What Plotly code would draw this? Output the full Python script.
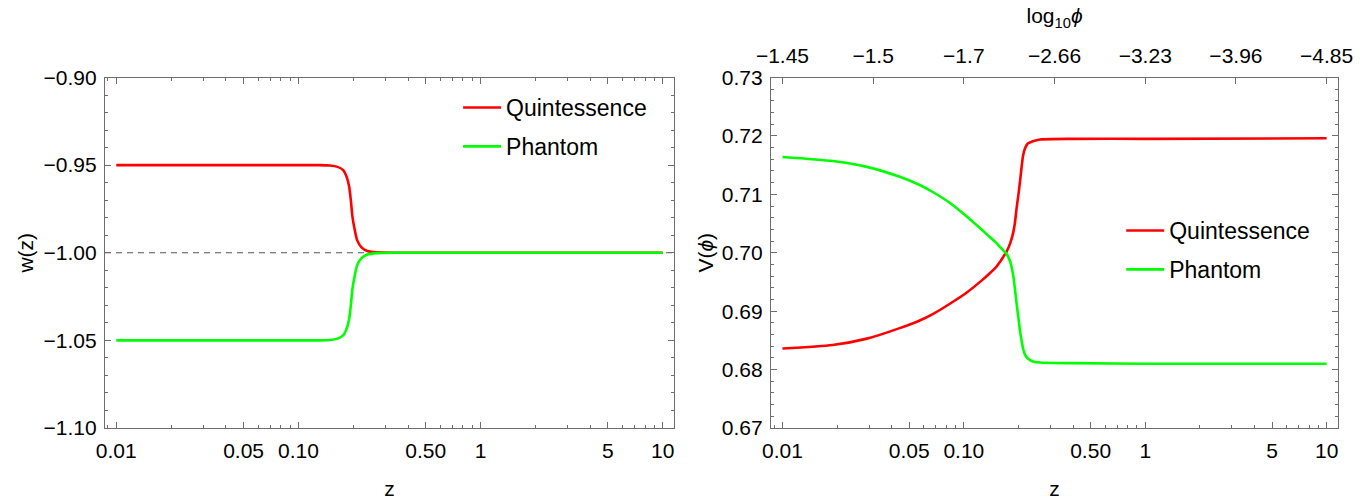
import plotly.graph_objects as go

# ---- Left panel: equation of state w(z) ----
z_w_quint = [0.01, 0.03, 0.06, 0.10, 0.13, 0.149, 0.164, 0.176, 0.184, 0.190, 0.194,
             0.198, 0.204, 0.210, 0.222, 0.239, 0.269, 0.35, 0.6, 1.0, 3.0, 10.0]
w_quint = [-0.9500, -0.9500, -0.9500, -0.9500, -0.9500, -0.9502, -0.9510, -0.9528,
           -0.9567, -0.9624, -0.9700, -0.9795, -0.9871, -0.9928, -0.9969, -0.9990,
           -0.9998, -1.0000, -1.0000, -1.0000, -1.0000, -1.0000]

z_w_phantom = [0.01, 0.03, 0.06, 0.10, 0.13, 0.149, 0.164, 0.176, 0.184, 0.190, 0.194,
               0.198, 0.204, 0.210, 0.222, 0.239, 0.269, 0.35, 0.6, 1.0, 3.0, 10.0]
w_phantom = [-1.0500, -1.0500, -1.0500, -1.0500, -1.0500, -1.0498, -1.0490, -1.0472,
             -1.0433, -1.0376, -1.0300, -1.0205, -1.0129, -1.0072, -1.0031, -1.0010,
             -1.0002, -1.0000, -1.0000, -1.0000, -1.0000, -1.0000]

w_reference = -1.0

# ---- Right panel: potential V(phi) ----
z_v = [0.01, 0.0189, 0.0292, 0.0443, 0.0571, 0.0674, 0.085, 0.1038, 0.127, 0.139,
       0.151, 0.158, 0.165, 0.172, 0.180, 0.187, 0.191, 0.195, 0.200, 0.204, 0.208,
       0.212, 0.217, 0.225, 0.240, 0.263, 0.40, 1.0, 10.0]
v_quint = [0.6836, 0.6842, 0.6853, 0.6871, 0.6884, 0.6895, 0.6914, 0.6932, 0.6954, 0.6965,
           0.6976, 0.6984, 0.6993, 0.7002, 0.7016, 0.7034, 0.7050, 0.7074, 0.7100, 0.7122,
           0.7146, 0.7166, 0.7178, 0.7187, 0.7191, 0.7194, 0.7195, 0.7195, 0.7196]
v_phantom = [0.7164, 0.7157, 0.7147, 0.7130, 0.7116, 0.7104, 0.7084, 0.7062, 0.7038, 0.7027,
             0.7017, 0.7010, 0.7004, 0.6998, 0.6985, 0.6962, 0.6940, 0.6915, 0.6888, 0.6866,
             0.6850, 0.6836, 0.6826, 0.6819, 0.6814, 0.6812, 0.6811, 0.6810, 0.6810]

# ---- Tick labels ----
z_tickvals = [0.01, 0.05, 0.1, 0.5, 1, 5, 10]
z_ticktext = ["0.01", "0.05", "0.10", "0.50", "1", "5", "10"]
z_minor = [0.009, 0.02, 0.03, 0.04, 0.06, 0.07, 0.08, 0.09, 0.2, 0.3, 0.4, 0.6, 0.7, 0.8,
           0.9, 2, 3, 4, 6, 7, 8, 9]
phi_tickvals = [0.01, 0.0316228, 0.1, 0.316228, 1, 3.16228, 10]
phi_ticktext = ["\u22121.45", "\u22121.5", "\u22121.7", "\u22122.66", "\u22123.23",
                "\u22123.96", "\u22124.85"]

RED = "#ff0000"
GREEN = "#00ff00"
FRAME = "#6e6e6e"
FONT = "Liberation Sans"
TICK_FONT = dict(family=FONT, size=21, color="black")
TITLE_FONT = dict(family=FONT, size=21, color="black")
LEGEND_FONT = dict(family=FONT, size=23, color="black")
LINE = dict(width=2.6, shape="spline", smoothing=0.6)

fig = go.Figure()

fig.add_trace(go.Scatter(x=z_w_quint, y=w_quint, mode="lines", name="Quintessence",
                         line=dict(color=RED, **LINE), xaxis="x", yaxis="y",
                         legend="legend", legendgroup="q1"))
fig.add_trace(go.Scatter(x=z_w_phantom, y=w_phantom, mode="lines", name="Phantom",
                         line=dict(color=GREEN, **LINE), xaxis="x", yaxis="y",
                         legend="legend", legendgroup="p1"))

fig.add_trace(go.Scatter(x=z_v, y=v_quint, mode="lines", name="Quintessence",
                         line=dict(color=RED, **LINE), xaxis="x2", yaxis="y2",
                         legend="legend2", legendgroup="q2"))
fig.add_trace(go.Scatter(x=z_v, y=v_phantom, mode="lines", name="Phantom",
                         line=dict(color=GREEN, **LINE), xaxis="x2", yaxis="y2",
                         legend="legend2", legendgroup="p2"))
# carrier for the log10(phi) axis on top of the right panel
fig.add_trace(go.Scatter(x=z_v, y=v_quint, mode="lines", opacity=0, showlegend=False,
                         hoverinfo="skip", xaxis="x3", yaxis="y2"))

# dashed reference line w = -1
fig.add_shape(type="line", xref="x domain", yref="y", x0=0, x1=1,
              y0=w_reference, y1=w_reference, layer="below",
              line=dict(color="#555555", width=1.2, dash="6px,5px"))

common_x = dict(type="log", showline=True, linecolor=FRAME, linewidth=1.2,
                ticks="inside", ticklen=6, tickwidth=1, tickcolor=FRAME,
                tickvals=z_tickvals, ticktext=z_ticktext, tickfont=TICK_FONT,
                showgrid=False, zeroline=False, ticklabelstandoff=4, automargin=False,
                minor=dict(tickvals=z_minor, ticks="inside", ticklen=3,
                           tickcolor=FRAME, showgrid=False),
                title=dict(text="z", font=TITLE_FONT, standoff=20))
common_y = dict(showline=True, linecolor=FRAME, linewidth=1.2, mirror="ticks",
                ticks="inside", ticklen=6, tickwidth=1, tickcolor=FRAME,
                tickfont=TICK_FONT, showgrid=False, zeroline=False,
                ticklabelstandoff=3, automargin=False)

fig.update_layout(
    width=1369, height=500,
    margin=dict(l=0, r=0, t=0, b=0, autoexpand=False),
    paper_bgcolor="white", plot_bgcolor="white",
    font=dict(family=FONT, color="black"),
    xaxis=dict(**common_x, domain=[0.0767, 0.4923], range=[-2.062, 1.062],
               mirror="ticks", anchor="y"),
    yaxis=dict(**common_y, domain=[0.144, 0.845], range=[-1.10, -0.90],
               tickvals=[-1.10, -1.05, -1.00, -0.95, -0.90], tickformat=".2f",
               minor=dict(dtick=0.01, ticks="inside", ticklen=3, tickcolor=FRAME),
               title=dict(text="w(z)", font=TITLE_FONT, standoff=4),
               anchor="x"),
    xaxis2=dict(**common_x, domain=[0.5632, 0.9774], range=[-2.063, 1.063],
                mirror=False, anchor="y2"),
    yaxis2=dict(**common_y, domain=[0.144, 0.845], range=[0.67, 0.73],
                dtick=0.01, tick0=0.67, tickformat=".2f",
                minor=dict(dtick=0.002, ticks="inside", ticklen=3, tickcolor=FRAME),
                title=dict(text="V(<i>\u03d5</i>)", font=TITLE_FONT, standoff=2),
                anchor="x2"),
    xaxis3=dict(type="log", overlaying="x2", side="top", anchor="y2",
                range=[-2.063, 1.063], showline=True, linecolor=FRAME, linewidth=1.2,
                ticks="inside", ticklen=6, tickcolor=FRAME, tickvals=phi_tickvals,
                ticktext=phi_ticktext, tickfont=TICK_FONT, showgrid=False,
                zeroline=False, ticklabelstandoff=5, automargin=False,
                title=dict(text="log<sub>10</sub><i>\u03d5</i>", font=TITLE_FONT,
                           standoff=14)),
    legend=dict(x=0.3346, y=0.828, xanchor="left", yanchor="top", itemwidth=38,
                font=LEGEND_FONT, bgcolor="rgba(0,0,0,0)", tracegroupgap=6),
    legend2=dict(x=0.819, y=0.582, xanchor="left", yanchor="top", itemwidth=38,
                 font=LEGEND_FONT, bgcolor="rgba(0,0,0,0)", tracegroupgap=6),
    showlegend=True,
)

fig.write_html("out.html",
               post_script="document.body.style.margin='0';document.body.style.padding='0';")
